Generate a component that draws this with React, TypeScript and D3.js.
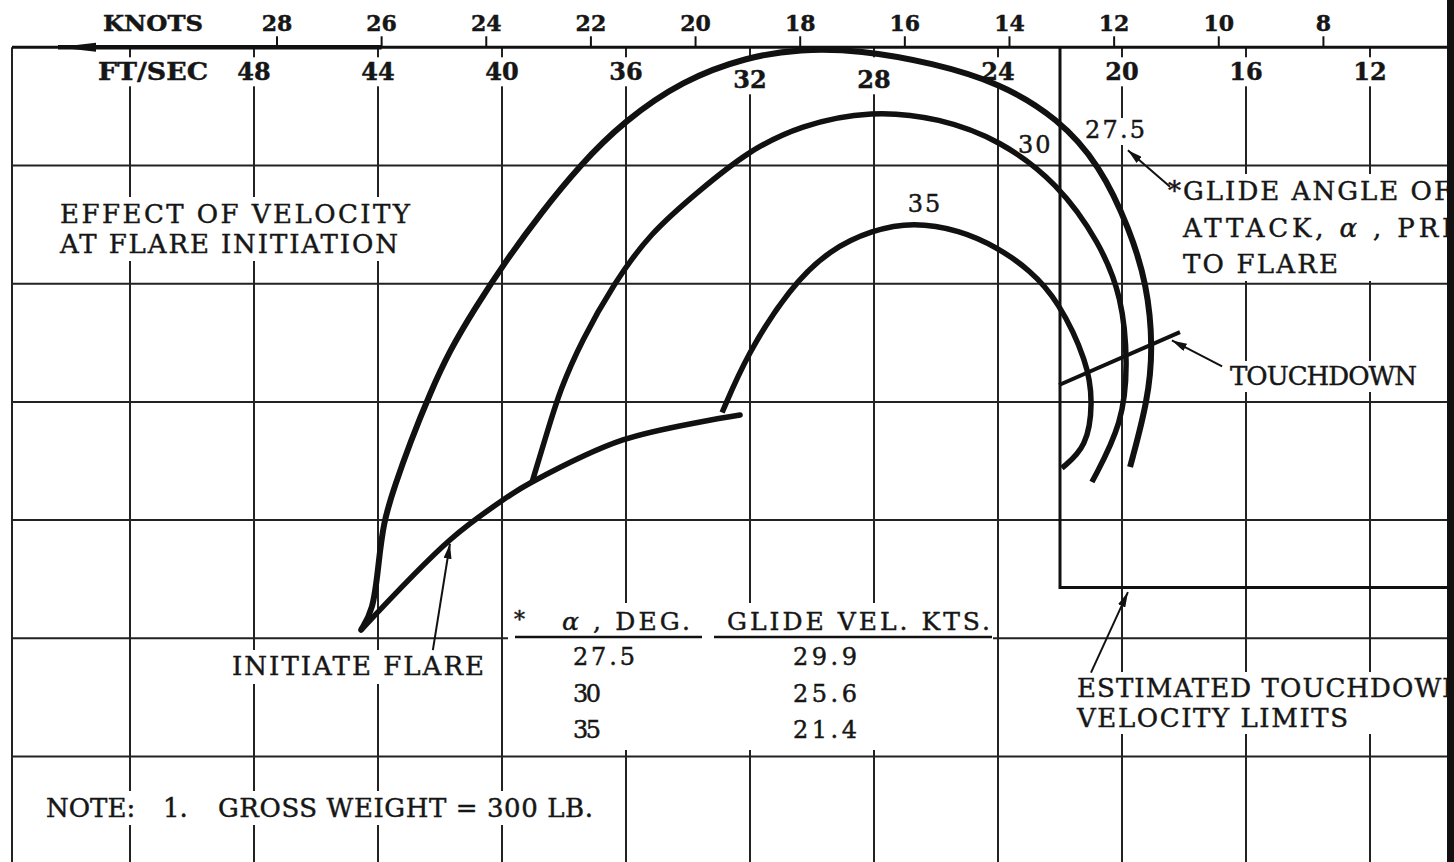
import React from "react";
import * as d3 from "d3";

// top scale: ft/sec grid (increasing to the left) and knots ticks above it
const ftSecGrid = [52, 48, 44, 40, 36, 32, 28, 24, 20, 16, 12];
const ftSecLabels = [48, 44, 40, 36, 32, 28, 24, 20, 16, 12];
const ftSecDropped = [32, 28]; // printed lower, under the curve
const knotTicks = [28, 26, 24, 22, 20, 18, 16, 14, 12, 10, 8];
const KT_TO_FPS = 1.68781;
const rowLines = [1, 2, 3, 4, 5, 6, 7];

// flare trajectories: [velocity ft/sec, grid rows below the top scale]
const alpha275 = [
  [44.55, 4.93], [44.16, 4.761], [44.0, 4.422], [43.84, 4.025], [43.45, 3.703],
  [42.97, 3.348], [42.32, 2.925], [41.68, 2.561], [40.87, 2.206], [39.9, 1.816],
  [38.77, 1.41], [37.48, 0.996], [36.1, 0.632], [34.16, 0.277], [32.1, 0.082],
  [30.39, 0.014], [28.45, 0.023], [26.1, 0.133], [23.94, 0.302], [22.07, 0.598],
  [20.71, 0.996], [19.74, 1.546], [19.19, 2.011], [19.0, 2.536], [19.16, 2.984],
  [19.74, 3.551]
];
const alpha30 = [
  [39.03, 3.678], [38.55, 3.263], [38.13, 2.899], [37.42, 2.476], [36.42, 2.011],
  [35.23, 1.571], [33.61, 1.207], [32.1, 0.886], [30.39, 0.658], [28.07, 0.531],
  [25.87, 0.599], [23.94, 0.784], [22.07, 1.148], [20.71, 1.656], [20.0, 2.112],
  [19.81, 2.671], [19.97, 3.179], [20.97, 3.678]
];
const alpha35 = [
  [32.9, 3.09], [32.1, 2.6], [30.71, 2.03], [29.42, 1.71], [28.06, 1.546],
  [26.74, 1.478], [25.23, 1.546], [24.03, 1.69], [22.97, 1.884], [22.06, 2.14],
  [21.1, 2.67], [20.94, 3.01], [21.13, 3.38], [21.94, 3.56]
];
const initiateFlare = [
  [44.55, 4.93], [41.68, 4.168], [39.97, 3.83], [39.03, 3.678], [36.1, 3.322],
  [32.32, 3.111]
];
const touchdownLine = [[22.03, 2.857], [18.13, 2.409]];
const limitVelocity = 22;
const limitRow = 4.57;

// glide table
const tableAlpha = ["27.5", "30", "35"];
const tableGlideVel = ["29.9", "25.6", "21.4"];

// leader arrows: [from, to] in [ft/sec, rows]
const arrows = [
  [[42.23, 5.1], [41.68, 4.2]],
  [[18.45, 1.18], [19.81, 0.87]],
  [[16.77, 2.7], [18.39, 2.48]],
  [[21.0, 5.29], [19.81, 4.61]]
];

const W = 1454;
const H = 862;
const FRAME_L = 12;
const FRAME_R = 1447;
const FONT = "'DejaVu Serif', 'Liberation Serif', serif";
const INK = "#161616";

const x = d3.scaleLinear().domain([52, 12]).range([130, 1370]);
const y = d3.scaleLinear().domain([0, 6]).range([47.3, 756.5]);

const smooth = d3
  .line<number[]>()
  .x(d => x(d[0]))
  .y(d => y(d[1]))
  .curve(d3.curveBasis);
const through = d3
  .line<number[]>()
  .x(d => x(d[0]))
  .y(d => y(d[1]))
  .curve(d3.curveCatmullRom.alpha(0.5));
const straight = d3
  .line<number[]>()
  .x(d => x(d[0]))
  .y(d => y(d[1]));

// white patches where the printed grid is broken around lettering: [x0, y0, x1, y1]
const knockouts = [
  [54, 197, 417, 261],
  [226, 650, 490, 684],
  [1224, 361, 1424, 392],
  [1164, 174, 1447, 281],
  [1071, 672, 1447, 734],
  [40, 791, 600, 825],
  [1082, 118, 1150, 145],
  [508, 603, 993, 750]
];

const Txt = ({ children, ...p }: any) => (
  <>
    <text
      fontFamily={FONT}
      {...p}
      fill="#fff"
      stroke="#fff"
      strokeWidth={6}
      strokeLinejoin="round"
      style={{ whiteSpace: "pre" }}
    >
      {children}
    </text>
    <text
      fontFamily={FONT}
      {...p}
      fill={INK}
      stroke={INK}
      strokeWidth={0.45}
      style={{ whiteSpace: "pre" }}
    >
      {children}
    </text>
  </>
);

export default function App() {
  const top = y(0);
  return (
    <svg
      width={W}
      height={H}
      style={{ position: "absolute", left: 0, top: 0, background: "#fff" }}
    >
      <defs>
        <marker
          id="head"
          viewBox="0 0 15 8"
          refX={15}
          refY={4}
          markerWidth={15}
          markerHeight={8}
          markerUnits="userSpaceOnUse"
          orient="auto"
        >
          <path d="M0,0 L15,4 L0,8 Z" fill="#111" />
        </marker>
        <clipPath id="frame">
          <rect x={0} y={0} width={FRAME_R} height={H} />
        </clipPath>
      </defs>

      {/* grid */}
      <g stroke="#222" strokeWidth={2}>
        {ftSecGrid.map(v => (
          <line key={v} x1={x(v)} x2={x(v)} y1={top} y2={H} />
        ))}
        {rowLines.map(r => (
          <line key={r} x1={FRAME_L} x2={FRAME_R} y1={y(r)} y2={y(r)} />
        ))}
        <line x1={FRAME_L} x2={FRAME_L} y1={top} y2={H} />
      </g>

      {/* gaps in the grid for the lettering */}
      <g fill="#fff">
        {knockouts.map((k, i) => (
          <rect key={i} x={k[0]} y={k[1]} width={k[2] - k[0]} height={k[3] - k[1]} />
        ))}
        {ftSecGrid.map(v => (
          <rect
            key={v}
            x={x(v) - 18}
            y={top + 10}
            width={36}
            height={ftSecDropped.includes(v) ? 37 : 29}
          />
        ))}
      </g>

      {/* top scale */}
      <g stroke="#111" strokeWidth={2}>
        {knotTicks.map(k => (
          <line key={k} x1={x(k * KT_TO_FPS)} x2={x(k * KT_TO_FPS)} y1={top} y2={top - 11} />
        ))}
      </g>
      <g fontWeight="bold" fontSize={22}>
        <Txt x={103} y={top - 16} textLength={100} lengthAdjust="spacingAndGlyphs">
          KNOTS
        </Txt>
        {knotTicks.map(k => (
          <Txt key={k} x={x(k * KT_TO_FPS)} y={top - 16} textAnchor="middle">
            {k}
          </Txt>
        ))}
      </g>
      <g fontWeight="bold" fontSize={24}>
        <Txt x={98} y={top + 33} textLength={110} lengthAdjust="spacingAndGlyphs">
          FT/SEC
        </Txt>
        {ftSecLabels.map(v => (
          <Txt
            key={v}
            x={x(v)}
            y={top + (ftSecDropped.includes(v) ? 41 : 33)}
            textAnchor="middle"
          >
            {v}
          </Txt>
        ))}
      </g>

      {/* annotations */}
      <g fontSize={26}>
        <Txt x={60} y={223} textLength={350}>EFFECT OF VELOCITY</Txt>
        <Txt x={60} y={253} textLength={338}>AT FLARE INITIATION</Txt>
        <Txt x={232} y={675} textLength={252}>INITIATE FLARE</Txt>
        <Txt x={1230} y={385} textLength={187}>TOUCHDOWN</Txt>
        <g clipPath="url(#frame)">
          <Txt x={1168} y={200} textLength={284}>*GLIDE ANGLE OF</Txt>
          <Txt x={1183} y={237} textLength={318}>
            ATTACK, <tspan fontStyle="italic">α</tspan> , PRIOR
          </Txt>
          <Txt x={1183} y={273} textLength={155}>TO FLARE</Txt>
          <Txt x={1077} y={697} textLength={388}>ESTIMATED TOUCHDOWN</Txt>
          <Txt x={1077} y={727} textLength={271}>VELOCITY LIMITS</Txt>
        </g>
        <Txt x={46} y={817}>NOTE:</Txt>
        <Txt x={163} y={817}>1.</Txt>
        <Txt x={218} y={817} textLength={375}>GROSS WEIGHT = 300 LB.</Txt>
      </g>

      {/* curve labels */}
      <g fontSize={24} letterSpacing={2}>
        <Txt x={925} y={212} textAnchor="middle">35</Txt>
        <Txt x={1018} y={153}>30</Txt>
        <Txt x={1085} y={138} textLength={62}>27.5</Txt>
      </g>

      {/* table */}
      <g fontSize={25}>
        <Txt x={514} y={627} fontSize={22}>*</Txt>
        <Txt x={562} y={630} textLength={128}>
          <tspan fontStyle="italic">α</tspan> , DEG.
        </Txt>
        <Txt x={727} y={630} textLength={263}>GLIDE VEL. KTS.</Txt>
      </g>
      <g fontSize={24}>
        {tableAlpha.map((a, i) => (
          <Txt key={a} x={573} y={665 + i * 36.5} textLength={a.length > 2 ? 62 : 28}>
            {a}
          </Txt>
        ))}
        {tableGlideVel.map((g, i) => (
          <Txt key={g} x={793} y={665 + i * 36.5} textLength={64}>
            {g}
          </Txt>
        ))}
      </g>
      <g stroke="#111" strokeWidth={2.5}>
        <line x1={515} x2={702} y1={637} y2={637} />
        <line x1={714} x2={992} y1={637} y2={637} />
      </g>

      {/* top axis with arrow */}
      <line x1={FRAME_L} x2={FRAME_R} y1={top} y2={top} stroke="#111" strokeWidth={3} />
      <line x1={58} x2={x(26 * KT_TO_FPS)} y1={top} y2={top} stroke="#111" strokeWidth={4.5} />
      <path d={`M${57},${top} L${96},${top - 4.5} L${96},${top + 4.5} Z`} fill="#111" />

      {/* touchdown velocity limits */}
      <path
        d={`M${x(limitVelocity)},${top} V${y(limitRow)} H${FRAME_R}`}
        fill="none"
        stroke="#111"
        strokeWidth={3}
      />

      {/* trajectories */}
      <g fill="none" stroke="#111" strokeWidth={5.5}>
        <path d={smooth(alpha275) || ""} strokeWidth={6} />
        <path d={smooth(alpha30) || ""} />
        <path d={smooth(alpha35) || ""} />
        <path d={through(initiateFlare) || ""} strokeLinecap="round" />
        <path d={straight(touchdownLine) || ""} strokeWidth={4} />
      </g>

      {/* leaders */}
      <g stroke="#111" strokeWidth={2} fill="none">
        {arrows.map((a, i) => (
          <path key={i} d={straight(a) || ""} markerEnd="url(#head)" />
        ))}
      </g>

      {/* right border */}
      <rect x={FRAME_R} y={0} width={W - FRAME_R} height={H} fill="#111" />
    </svg>
  );
}
